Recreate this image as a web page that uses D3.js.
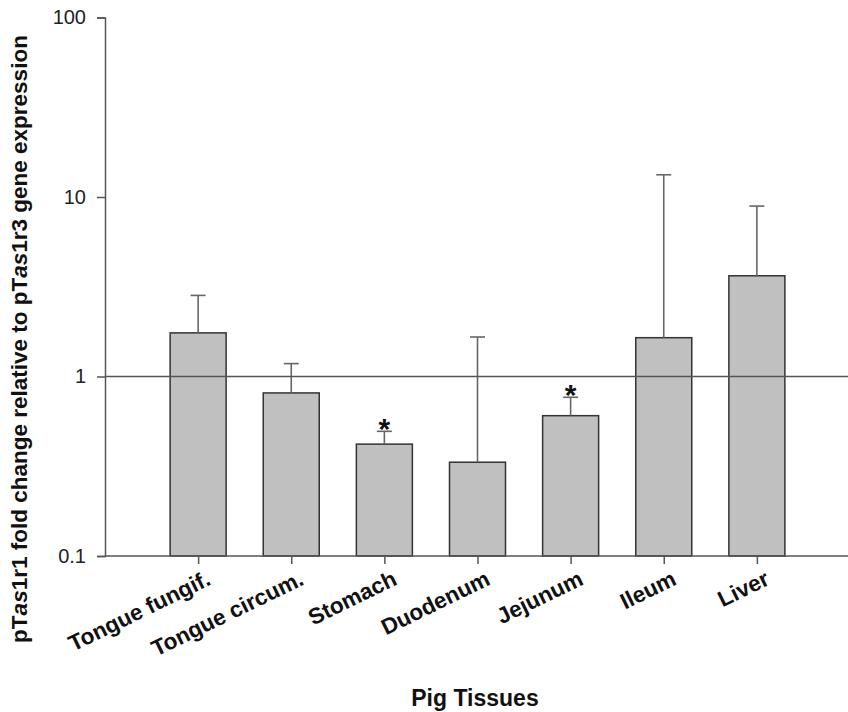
<!DOCTYPE html>
<html>
<head>
<meta charset="utf-8">
<script src="https://cdn.jsdelivr.net/npm/d3@7"></script>
<style>
  body { margin: 0; background: #fff; }
  text { font-family: "Liberation Sans", Arial, sans-serif; }
</style>
</head>
<body>
<div id="chart"></div>
<script>
const width = 848;
const height = 712;

// data
const tissues = ["Tongue fungif.", "Tongue circum.", "Stomach", "Duodenum", "Jejunum", "Ileum", "Liver"];
const foldChange = [1.75, 0.81, 0.42, 0.333, 0.605, 1.645, 3.64];
const errorTop = [2.83, 1.18, 0.495, 1.66, 0.766, 13.3, 8.9];
const significant = [false, false, true, false, true, false, false];
const yTicks = [0.1, 1, 10, 100];

const svg = d3.select("#chart")
    .append("svg")
    .attr("width", width)
    .attr("height", height);

const x = d3.scalePoint()
    .domain(tissues)
    .range([105, 850])
    .padding(1);

const y = d3.scaleLog()
    .domain([0.1, 100])
    .range([556, 17.5]);

const barW = 56;

// bars
svg.selectAll(".bar")
    .data(tissues)
    .enter()
    .append("rect")
    .attr("class", "bar")
    .attr("x", d => x(d) - barW / 2)
    .attr("y", (d, i) => y(foldChange[i]))
    .attr("width", barW)
    .attr("height", (d, i) => y(0.1) - y(foldChange[i]))
    .attr("fill", "#c0c0c0")
    .attr("stroke", "#333")
    .attr("stroke-width", 1.5);

// error bars (upper only)
const err = svg.selectAll(".err")
    .data(tissues)
    .enter()
    .append("g")
    .attr("class", "err")
    .attr("stroke", "#666")
    .attr("stroke-width", 1.6);

err.append("line")
    .attr("x1", d => x(d))
    .attr("x2", d => x(d))
    .attr("y1", (d, i) => y(foldChange[i]))
    .attr("y2", (d, i) => y(errorTop[i]));

err.append("line")
    .attr("x1", d => x(d) - 7.5)
    .attr("x2", d => x(d) + 7.5)
    .attr("y1", (d, i) => y(errorTop[i]))
    .attr("y2", (d, i) => y(errorTop[i]));

// significance stars
svg.selectAll(".star")
    .data(tissues.filter((d, i) => significant[i]))
    .enter()
    .append("text")
    .attr("class", "star")
    .attr("x", d => x(d))
    .attr("y", d => y(errorTop[tissues.indexOf(d)]) + 8)
    .attr("text-anchor", "middle")
    .attr("font-size", 30)
    .attr("font-weight", "bold")
    .attr("fill", "#111")
    .text("*");

// reference line at 1
svg.append("line")
    .attr("x1", 105)
    .attr("x2", width)
    .attr("y1", y(1))
    .attr("y2", y(1))
    .attr("stroke", "#555")
    .attr("stroke-width", 1.5);

// y axis
const yAxis = svg.append("g")
    .attr("transform", "translate(105,0)")
    .call(d3.axisLeft(y).tickValues(yTicks).tickFormat(d3.format("")).tickSize(8).tickPadding(11));
yAxis.select(".domain").attr("stroke", "#555").attr("stroke-width", 1.5);
yAxis.selectAll(".tick line").attr("stroke", "#555").attr("stroke-width", 1.5);
yAxis.selectAll(".tick text")
    .attr("font-size", 20)
    .attr("fill", "#222")
    .attr("font-family", "Liberation Sans, Arial, sans-serif");

// x axis
const xAxis = svg.append("g")
    .attr("transform", "translate(0,556)")
    .call(d3.axisBottom(x).tickSize(8).tickFormat(""));
xAxis.select(".domain").attr("d", `M105,0H${width}`).attr("stroke", "#555").attr("stroke-width", 1.5);
xAxis.selectAll(".tick line").attr("stroke", "#555").attr("stroke-width", 1.5);

// rotated category labels
svg.selectAll(".xlab")
    .data(tissues)
    .enter()
    .append("text")
    .attr("class", "xlab")
    .attr("transform", d => `translate(${x(d) + 14},${584}) rotate(-26)`)
    .attr("text-anchor", "end")
    .attr("font-size", 22.5)
    .attr("font-weight", "bold")
    .attr("fill", "#111")
    .text(d => d);

// axis titles
svg.append("text")
    .attr("x", 475)
    .attr("y", 706)
    .attr("text-anchor", "middle")
    .attr("font-size", 23)
    .attr("font-weight", "bold")
    .attr("fill", "#111")
    .text("Pig Tissues");

const yTitle = svg.append("text")
    .attr("transform", "translate(27,339) rotate(-90)")
    .attr("text-anchor", "middle")
    .attr("font-size", 22.5)
    .attr("font-weight", "bold")
    .attr("fill", "#111");
yTitle.append("tspan").text("pT");
yTitle.append("tspan").attr("font-style", "italic").text("as");
yTitle.append("tspan").text("1r1 fold change relative to pT");
yTitle.append("tspan").attr("font-style", "italic").text("as");
yTitle.append("tspan").text("1r3 gene expression");
</script>
</body>
</html>
